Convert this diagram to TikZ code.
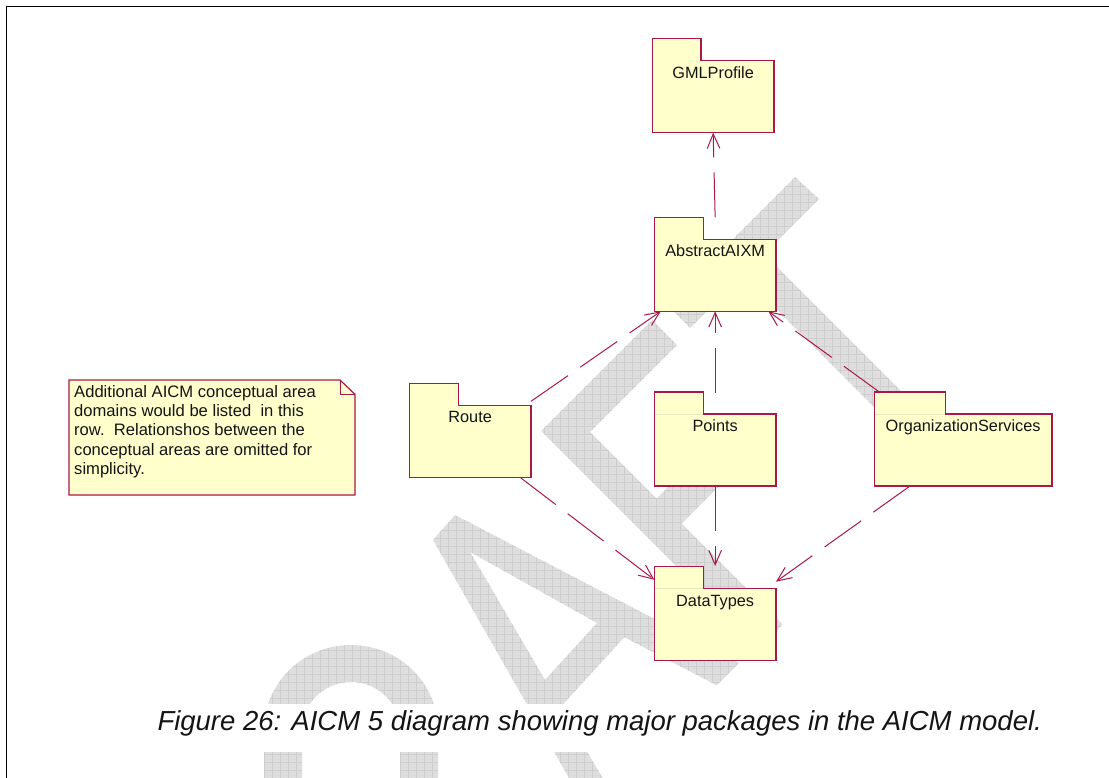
\documentclass[tikz,border=0pt]{standalone}
\usepackage{fontspec}
\setmainfont{Liberation Sans}
\usetikzlibrary{arrows.meta,patterns.meta}

\definecolor{pkgline}{RGB}{170,24,72}
\definecolor{pkgfill}{RGB}{255,255,204}
\definecolor{tabseam}{RGB}{236,230,192}
\definecolor{wmfill}{RGB}{222,222,222}
\definecolor{wmline}{RGB}{206,206,206}
\definecolor{ink}{RGB}{20,20,20}

\tikzset{
  pkgbody/.style={draw=pkgline, fill=pkgfill, line width=1.2pt, rectangle,
    anchor=north west, inner sep=0pt, outer sep=0pt,
    minimum width=121.7pt, minimum height=72pt,
    text height=17.6pt, text depth=54.4pt, text=ink,
    font=\fontsize{16.3}{19}\selectfont},
  tabedge/.style={draw=pkgline, line width=1.2pt, line join=miter},
  dep/.style={draw=pkgline, line width=1pt, dash pattern=on 45pt off 15pt,
    -{Straight Barb[length=14.5pt,width=12.6pt]}},
  wm/.style={even odd rule, preaction={fill=wmfill, even odd rule},
    pattern={Hatch[angle=0,distance=8pt,line width=0.5pt]}, pattern color=wmline},
}

% folder tab on top of a package body: #1 = body node, #2 = tab width (pt)
\newcommand{\pkgtab}[2]{%
  \fill[pkgfill] ([shift={(0.6pt,-0.75pt)}]#1.north west) rectangle ([shift={(#2pt-0.6pt,22pt)}]#1.north west);
  \draw[tabedge] ([yshift=-0.6pt]#1.north west) -- ([yshift=22pt]#1.north west)
    -- ([shift={(#2pt,22pt)}]#1.north west) -- ([xshift=#2pt]#1.north west)
    -- ([xshift=#2pt+0.6pt]#1.north west);
}
\newcommand{\tabseamline}[2]{%
  \draw[tabseam, line width=0.8pt] ([xshift=0.8pt]#1.north west) -- ([xshift=#2pt-0.8pt]#1.north west);
}

\begin{document}
\begin{tikzpicture}[x=1pt, y=-1pt]
\useasboundingbox (0,0) rectangle (1109,778);

% ---- DRAFT watermark ----
\begin{scope}
  \clip (0,0) rectangle (1109,778);
  % letter F
  \path[wm] (541,431) -- (652,320) -- (677,345) -- (590,432) -- (656.5,498.5)
    -- (727.5,427.5) -- (752.5,452.5) -- (681.5,523.5) -- (782.5,624.5)
    -- (758.5,648.5) -- cycle;
  % letter T
  \path[wm] (667,305) -- (690,328) -- (819,199) -- (795,177) -- cycle;
  \path[wm] (755,245) -- (733.5,266.5) -- (923.5,456.5) -- (945,435) -- cycle;
  % letter A
  \path[wm] (581.6,800) -- (433,540) -- (455,515) -- (739,663) -- (716.7,685.3)
    -- (624.3,637.2) -- (560.8,706.8) -- (615.6,800) -- cycle
    (470,552) -- (597,623) -- (545,680) -- cycle;
  % letter R (bowl)
  \path[wm] (264,790) -- (264,730) arc[start angle=180, end angle=0, x radius=87pt, y radius=85pt]
    -- (438,790) -- (400,790) -- (400,730)
    arc[start angle=0, end angle=180, x radius=49pt, y radius=48pt] -- (302,790) -- cycle;
\end{scope}

% ---- caption ----
\fill[white] (8,704) rectangle (1109,752);
\node[anchor=base west, inner sep=0pt, text=ink, font=\itshape\fontsize{27.5}{30}\selectfont]
  (caption) at (157.3,730) {Figure 26: AICM 5 diagram showing major packages in the AICM model.};

% ---- frame ----
\draw[line width=1.4pt, black] (6.7,778) -- (6.7,6.7) -- (1109,6.7);

% ---- note ----
\draw[draw=pkgline, fill=pkgfill, line width=1.2pt] (69,380) -- (340,380) -- (355,394.3)
  -- (355,495) -- (69,495) -- cycle;
\draw[draw=pkgline, line width=1pt] (340,380) -- (340,394.3) -- (355,394.3);
\node[anchor=north west, inner sep=0pt, align=left, text=ink,
  font=\fontsize{16.6}{19.3}\selectfont] (note) at (74,385)
  {Additional AICM conceptual area\\
   domains would be listed\ \ in this\\
   row.\ \ Relationshos between the\\
   conceptual areas are omitted for\\
   simplicity.};

% ---- packages ----
\node[pkgbody] (gml) at (652.3,60.7) {GMLProfile};
\pkgtab{gml}{48.7}
\node[pkgbody] (abs) at (654.3,239.3) {AbstractAIXM};
\pkgtab{abs}{49}
\node[pkgbody] (route) at (409.3,405.3) {Route};
\pkgtab{route}{49.4}
\node[pkgbody] (pts) at (654.3,414) {Points};
\pkgtab{pts}{49.4}
\tabseamline{pts}{49.4}
\node[pkgbody, minimum width=177.7pt] (org) at (874.3,414) {OrganizationServices};
\pkgtab{org}{71.4}
\tabseamline{org}{71.4}
\node[pkgbody] (dt) at (654.3,588.7) {DataTypes};
\pkgtab{dt}{49}
\tabseamline{dt}{49}

% ---- dependencies ----
\draw[dep] ([yshift=22pt]abs.north) -- (gml.south);
\draw[dep] ([yshift=4pt]route.north east) -- ([xshift=6.5pt]abs.south west);
\draw[dep] ([yshift=21.3pt]pts.north) -- (abs.south);
\draw[dep] ([shift={(6pt,21.3pt)}]org.north west) -- ([xshift=-7.7pt]abs.south east);
\draw[dep] ([xshift=-11pt]route.south east) -- ([yshift=9pt]dt.north west);
\draw[dep] (pts.south) -- ([yshift=22.7pt]dt.north);
\draw[dep] ([xshift=35.7pt]org.south west) -- ([yshift=7pt]dt.north east);
\end{tikzpicture}
\end{document}
